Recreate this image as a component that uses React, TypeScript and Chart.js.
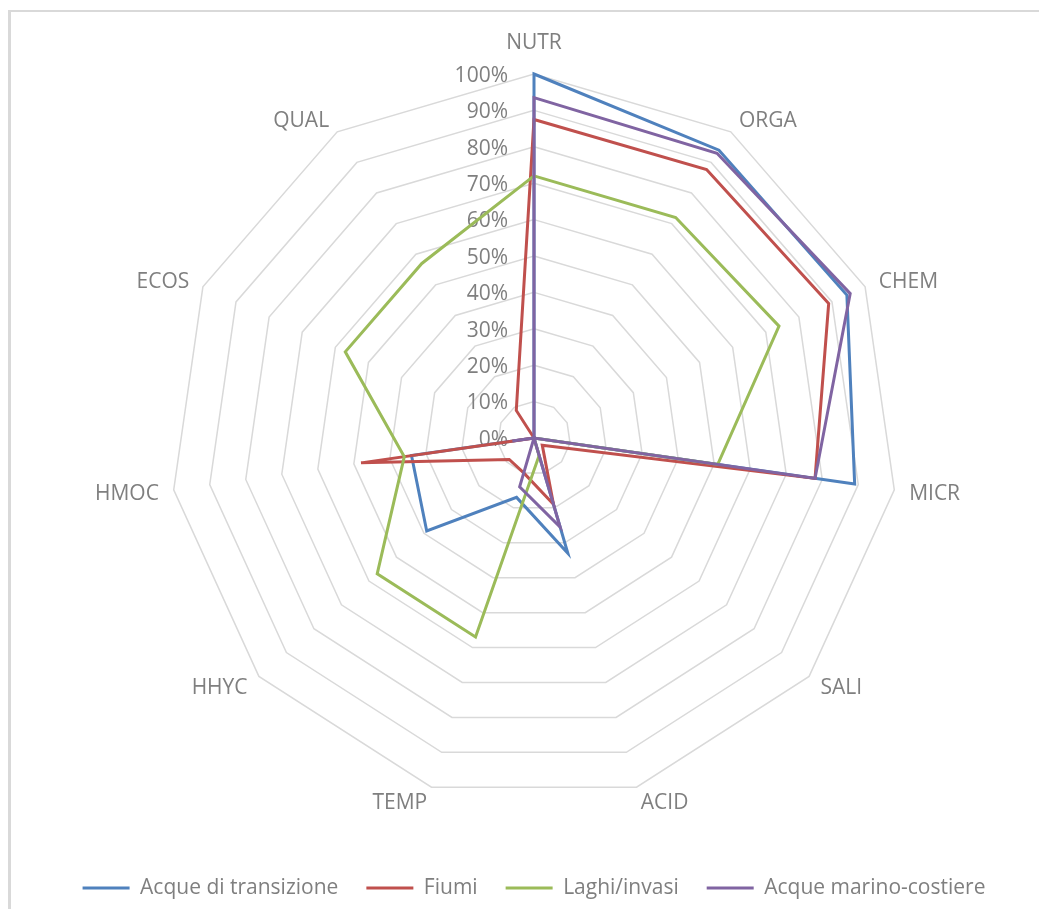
import React, { useEffect, useRef } from 'react';
import { Chart, registerables } from 'chart.js';

Chart.register(...registerables);

// ---- data ----
const CATEGORIES = ['NUTR', 'ORGA', 'CHEM', 'MICR', 'SALI', 'ACID', 'TEMP', 'HHYC', 'HMOC', 'ECOS', 'QUAL'];
const SERIES_NAMES = ['Acque di transizione', 'Fiumi', 'Laghi/invasi', 'Acque marino-costiere'];
const TRANSIZIONE = [100, 94, 94.5, 89, 0, 33, 17, 39, 34, 0, 0];
const FIUMI = [87.5, 87.7, 89, 78, 3, 19, 10, 9, 48, 0, 9];
const LAGHI = [72, 72, 74, 51, 0, 5, 57, 57, 36, 57, 57];
const MARINO = [93.5, 93, 95.5, 78, 0, 25.5, 14, 0, 6, 0, 0];
const TICK_VALUES = [0, 10, 20, 30, 40, 50, 60, 70, 80, 90, 100];
const TICK_LABELS = ['0%', '10%', '20%', '30%', '40%', '50%', '60%', '70%', '80%', '90%', '100%'];

// ---- style ----
const COLORS = ['#4F81BD', '#C0504D', '#9BBB59', '#8064A2'];
const TEXT = '#7f7f7f';
const FONT = 'Open Sans';
const FONT_SIZE = 21;
const CAP_HALF = 7.8; // half the cap height of the font, to centre capitals on a point

// Tick labels (right-aligned, left of the vertical axis) and point labels,
// positioned through the radial scale's own geometry.
const radarTextPlugin = {
  id: 'radarText',
  beforeDatasetsDraw(chart: any) {
    const s = chart.scales.r;
    const ctx = chart.ctx;
    ctx.save();
    ctx.font = `${FONT_SIZE}px "${FONT}"`;
    ctx.fillStyle = TEXT;
    ctx.textBaseline = 'alphabetic';

    // tick labels
    ctx.textAlign = 'right';
    TICK_VALUES.forEach((v, i) => {
      const y = s.yCenter - s.getDistanceFromCenterForValue(v);
      ctx.fillText(TICK_LABELS[i], s.xCenter - 26, y + CAP_HALF);
    });

    // point labels
    const labels: string[] = chart.data.labels;
    labels.forEach((lab, i) => {
      const a = s.getIndexAngle(i);
      const sx = Math.sin(a);
      let p;
      if (Math.abs(sx) < 0.01) {
        p = s.getPointPosition(i, s.drawingArea + 33);
        ctx.textAlign = 'center';
      } else {
        p = s.getPointPosition(i, s.drawingArea + 15);
        ctx.textAlign = sx > 0 ? 'left' : 'right';
      }
      ctx.fillText(lab, p.x, p.y + CAP_HALF);
    });
    ctx.restore();
  },
};

export default function App() {
  const ref = useRef<HTMLCanvasElement>(null);
  useEffect(() => {
    const series = [TRANSIZIONE, FIUMI, LAGHI, MARINO];
    const chart = new Chart(ref.current as HTMLCanvasElement, {
      type: 'radar',
      data: {
        labels: CATEGORIES,
        datasets: series.map((d, i) => ({
          label: SERIES_NAMES[i],
          data: d,
          borderColor: COLORS[i],
          backgroundColor: COLORS[i],
          pointBorderColor: COLORS[i],
          pointBackgroundColor: COLORS[i],
          borderWidth: 3,
          pointBorderWidth: 3,
          pointRadius: 0,
          pointHoverRadius: 0,
          fill: false,
          tension: 0,
          order: 4 - i,
        })),
      },
      options: {
        animation: false,
        responsive: true,
        maintainAspectRatio: false,
        layout: { padding: { left: 18, right: 0, top: 62, bottom: 0.5 } },
        scales: {
          r: {
            min: 0,
            max: 100,
            ticks: { display: false, stepSize: 10 },
            grid: { color: '#d9d9d9', lineWidth: 1.5, circular: false },
            angleLines: { display: false },
            pointLabels: { display: false },
          },
        },
        plugins: {
          tooltip: { enabled: false },
          legend: {
            position: 'bottom',
            title: { display: true, text: '', padding: 23.25, font: { size: 1, lineHeight: 1 } },
            labels: {
              color: TEXT,
              font: { family: FONT, size: FONT_SIZE },
              usePointStyle: true,
              pointStyle: 'line',
              pointStyleWidth: 47,
              padding: 28,
              sort: (a: any, b: any) => a.datasetIndex - b.datasetIndex,
            },
          },
        },
      },
      plugins: [radarTextPlugin],
    } as any);
    return () => chart.destroy();
  }, []);

  return (
    <div style={{ paddingTop: 2 }}>
      <div style={{ borderLeft: '3px solid #d9d9d9', borderTop: '2px solid #d9d9d9', height: 897 }}>
        <div style={{ position: 'relative', width: 1028, height: 897 }}>
          <canvas ref={ref} />
        </div>
      </div>
    </div>
  );
}
